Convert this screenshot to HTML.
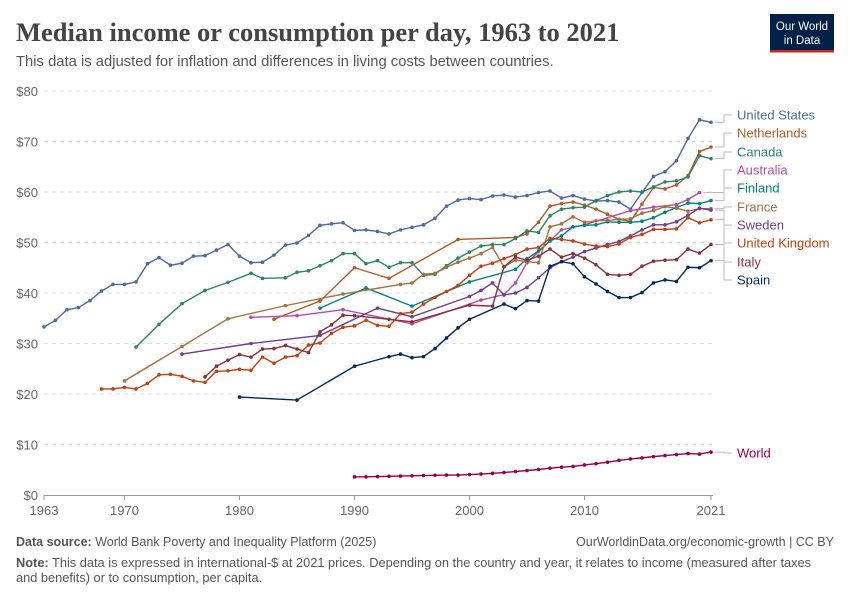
<!DOCTYPE html>
<html><head><meta charset="utf-8">
<style>
body{margin:0;background:#fff;width:850px;height:600px;overflow:hidden;font-family:"Liberation Sans",sans-serif}
svg text{font-family:"Liberation Sans",sans-serif}
</style></head>
<body>
<svg id="c" width="850" height="600">
<text x="16" y="41" font-weight="bold" font-size="26.5" fill="#444" style="font-family:'Liberation Serif',serif">Median income or consumption per day, 1963 to 2021</text>
<text x="16" y="66" font-size="14.8" fill="#555">This data is adjusted for inflation and differences in living costs between countries.</text>
<g>
<rect x="770" y="14" width="64" height="38" fill="#002147"/>
<rect x="770" y="50" width="64" height="2.5" fill="#ce261e"/>
<text x="802" y="30" font-size="11.5" fill="#fff" text-anchor="middle">Our World</text>
<text x="802" y="44" font-size="11.5" fill="#fff" text-anchor="middle">in Data</text>
</g>
<g id="grid"></g><g id="series"></g><g id="labels"></g>
<text x="16" y="546" font-size="12.5" fill="#555"><tspan font-weight="bold">Data source:</tspan> World Bank Poverty and Inequality Platform (2025)</text>
<text x="834" y="546" font-size="12.5" fill="#555" text-anchor="end">OurWorldinData.org/economic-growth | CC BY</text>
<text x="16" y="567" font-size="12.8" fill="#555"><tspan font-weight="bold">Note:</tspan> This data is expressed in international-$ at 2021 prices. Depending on the country and year, it relates to income (measured after taxes</text>
<text x="16" y="582" font-size="12.8" fill="#555">and benefits) or to consumption, per capita.</text>
</svg>
<script>
const yTicks=[0,10,20,30,40,50,60,70,80];
const xTicks=[1963,1970,1980,1990,2000,2010,2021];
const usYears=[1963,1964,1965,1966,1967,1968,1969,1970,1971,1972,1973,1974,1975,1976,1977,1978,1979,1980,1981,1982,1983,1984,1985,1986,1987,1988,1989,1990,1991,1992,1993,1994,1995,1996,1997,1998,1999,2000,2001,2002,2003,2004,2005,2006,2007,2008,2009,2010,2011,2012,2013,2014,2015,2016,2017,2018,2019,2020,2021];
const usVals=[33.3,34.6,36.7,37.1,38.5,40.4,41.7,41.7,42.2,45.8,47.0,45.5,45.9,47.3,47.4,48.5,49.6,47.3,46.0,46.1,47.5,49.5,49.9,51.4,53.4,53.7,53.9,52.4,52.5,52.2,51.7,52.5,53.0,53.5,54.8,57.2,58.4,58.7,58.5,59.2,59.4,59.0,59.3,59.9,60.2,58.8,59.3,58.6,58.2,58.3,58.0,56.6,59.9,63.1,64.0,66.2,70.6,74.3,73.8];
const nlYears=[1983,1987,1990,1993,1999,2004,2005,2006,2007,2008,2009,2010,2011,2012,2013,2014,2015,2016,2017,2018,2019,2020,2021];
const nlVals=[34.8,38.4,45.0,42.9,50.6,51.0,51.7,54.0,57.2,57.7,58.0,57.4,56.6,55.6,54.6,54.2,57.6,60.9,60.6,61.4,63.2,68.0,68.9];
const caYears=[1971,1973,1975,1977,1979,1981,1982,1984,1985,1986,1987,1988,1989,1990,1991,1992,1993,1994,1995,1996,1997,1998,1999,2000,2001,2002,2003,2004,2005,2006,2007,2008,2009,2010,2011,2012,2013,2014,2015,2016,2017,2018,2019,2020,2021];
const caVals=[29.3,33.8,37.9,40.5,42.1,43.9,42.9,43.0,44.1,44.4,45.4,46.4,47.8,47.8,45.8,46.4,45.1,46.0,46.0,43.5,43.7,45.4,46.9,48.1,49.3,49.6,49.6,50.8,52.3,52.0,55.3,56.6,56.9,57.0,58.3,59.3,60.0,60.2,60.0,61.0,62.0,62.2,63.0,67.2,66.6];
const auYears=[1981,1985,1989,1995,2001,2003,2004,2005,2008,2010,2014,2016,2018,2019,2020];
const auVals=[35.2,35.5,36.7,33.9,38.6,39.7,42.0,46.0,52.5,53.5,56.3,57.0,57.5,58.5,59.9];
const fiYears=[1987,1991,1995,2000,2004,2005,2006,2007,2008,2009,2010,2011,2012,2013,2014,2015,2016,2017,2018,2019,2020,2021];
const fiVals=[37.0,41.0,37.4,42.2,44.7,46.8,48.3,50.3,51.3,53.1,53.4,53.5,54.1,54.0,54.0,54.2,54.9,56.0,56.9,57.8,57.7,58.3];
const frYears=[1970,1975,1979,1984,1989,1994,1995,1996,1997,1998,1999,2000,2001,2002,2003,2004,2005,2006,2007,2008,2009,2010,2011,2012,2013,2014,2015,2016,2017,2018,2019,2020,2021];
const frVals=[22.6,29.4,34.9,37.5,39.8,41.7,42.0,43.7,43.9,45.1,46.1,46.9,47.8,49.0,45.2,46.5,46.2,46.0,53.1,53.7,55.1,54.0,54.3,54.4,54.6,54.7,55.8,56.3,57.1,56.8,56.2,56.7,56.7];
const seYears=[1975,1981,1987,1992,1995,2000,2001,2002,2003,2004,2005,2006,2007,2008,2009,2010,2011,2012,2013,2014,2015,2016,2017,2018,2019,2020,2021];
const seVals=[27.9,30.0,31.6,37.0,35.3,39.3,40.5,42.0,39.6,40.0,41.1,43.0,45.0,46.2,47.1,48.2,48.9,49.6,50.2,51.3,52.5,53.5,53.5,54.1,55.4,56.8,56.4];
const ukYears=[1968,1969,1970,1971,1972,1973,1974,1975,1976,1977,1978,1979,1980,1981,1982,1983,1984,1985,1986,1987,1988,1989,1990,1991,1992,1993,1994,1995,1996,1997,1998,1999,2000,2001,2002,2003,2004,2005,2006,2007,2008,2009,2010,2011,2012,2013,2014,2015,2016,2017,2018,2019,2020,2021];
const ukVals=[21.0,21.0,21.3,21.0,22.1,23.8,23.9,23.5,22.6,22.3,24.5,24.6,24.9,24.7,27.3,26.1,27.3,27.6,29.7,30.1,32.0,33.2,33.5,34.6,33.6,33.4,35.9,36.2,37.8,39.1,40.3,41.5,43.5,45.3,45.9,46.8,47.6,48.7,49.0,50.8,50.6,50.3,49.7,49.3,49.2,49.7,51.0,51.6,52.6,52.6,52.7,54.9,53.9,54.5];
const itYears=[1977,1978,1979,1980,1981,1982,1983,1984,1985,1986,1987,1988,1989,1990,1993,1995,2000,2002,2003,2004,2005,2006,2007,2008,2009,2010,2011,2012,2013,2014,2015,2016,2017,2018,2019,2020,2021];
const itVals=[23.4,25.5,26.7,27.8,27.3,28.9,29.0,29.6,28.9,28.2,32.3,33.7,35.6,35.5,34.8,34.3,37.6,37.4,45.2,47.1,46.5,47.3,48.7,47.1,47.8,46.9,45.6,43.7,43.5,43.7,45.3,46.3,46.5,46.6,48.7,47.9,49.6];
const esYears=[1980,1985,1990,1993,1994,1995,1996,1997,1998,1999,2000,2003,2004,2005,2006,2007,2008,2009,2010,2011,2012,2013,2014,2015,2016,2017,2018,2019,2020,2021];
const esVals=[19.4,18.8,25.5,27.4,27.9,27.2,27.4,29.0,31.1,33.1,34.8,37.8,36.9,38.5,38.4,45.3,46.2,45.8,43.2,41.8,40.3,39.1,39.1,40.1,42.0,42.6,42.3,45.1,45.0,46.4];
const wdYears=[1990,1991,1992,1993,1994,1995,1996,1997,1998,1999,2000,2001,2002,2003,2004,2005,2006,2007,2008,2009,2010,2011,2012,2013,2014,2015,2016,2017,2018,2019,2020,2021];
const wdVals=[3.6,3.6,3.65,3.7,3.75,3.8,3.85,3.9,3.95,3.95,4.05,4.15,4.3,4.45,4.65,4.85,5.05,5.3,5.5,5.65,5.95,6.2,6.5,6.85,7.15,7.35,7.6,7.8,8.0,8.2,8.1,8.5];
const names=["United States","Netherlands","Canada","Australia","Finland","France","Sweden","United Kingdom","Italy","Spain","World"];
const yearsList=[usYears,nlYears,caYears,auYears,fiYears,frYears,seYears,ukYears,itYears,esYears,wdYears];
const valsList=[usVals,nlVals,caVals,auVals,fiVals,frVals,seVals,ukVals,itVals,esVals,wdVals];
const colors=["#4c6a9c","#b15a24","#2c8465","#b54ca6","#00847e","#a2713f","#6d3e91","#c0410f","#883039","#00295b","#970046"];
const labelY=[115,133,152,170,188,207,225,243,262,280,453];
const X=y=>44+(y-1963)*(667/58);
const Y=v=>495-v*5.05;
const NS="http://www.w3.org/2000/svg";
function mk(t,a,p){const e=document.createElementNS(NS,t);for(const k in a)e.setAttribute(k,a[k]);p.appendChild(e);return e;}
const grid=document.getElementById('grid');
yTicks.forEach(v=>{
  if(v>0){const l=mk('line',{x1:44,x2:713,y1:Y(v),y2:Y(v),stroke:'#ddd','stroke-dasharray':'4,4'},grid);
  
  }
  const t=mk('text',{x:38,y:Y(v)+5,'font-size':13,fill:'#666','text-anchor':'end'},grid);t.textContent='$'+v;
  
  
});
const ax=mk('line',{x1:44,x2:713,y1:495.5,y2:495.5,stroke:'#999'},grid);


xTicks.forEach(y=>{
  mk('line',{x1:X(y),x2:X(y),y1:495,y2:500,stroke:'#999'},grid);
  const t=mk('text',{x:X(y),y:515,'font-size':13,fill:'#666','text-anchor':'middle'},grid);t.textContent=y;
  
  
});
const sg=document.getElementById('series'),lg=document.getElementById('labels');
names.forEach((n,i)=>{
  const g=mk('g',{},sg);
  
  
  const ys=yearsList[i],vs=valsList[i];
  mk('polyline',{points:ys.map((y,j)=>X(y)+','+Y(vs[j])).join(' '),fill:'none',stroke:colors[i],'stroke-width':1.4},g);
  ys.forEach((y,j)=>{const c=mk('circle',{cx:X(y),cy:Y(vs[j]),r:1.8,fill:colors[i]},g);
    
    });
  const lx=X(ys[ys.length-1])+4,ly=Y(vs[vs.length-1]);
  mk('polyline',{points:`${lx},${ly} 724,${ly} 724,${labelY[i]} 732,${labelY[i]}`,fill:'none',stroke:'#bbb','stroke-width':1},lg);
  const t=mk('text',{x:737,y:labelY[i]+4.5,'font-size':13,fill:colors[i]},lg);t.textContent=n;
  
  
});
</script>
</body></html>
